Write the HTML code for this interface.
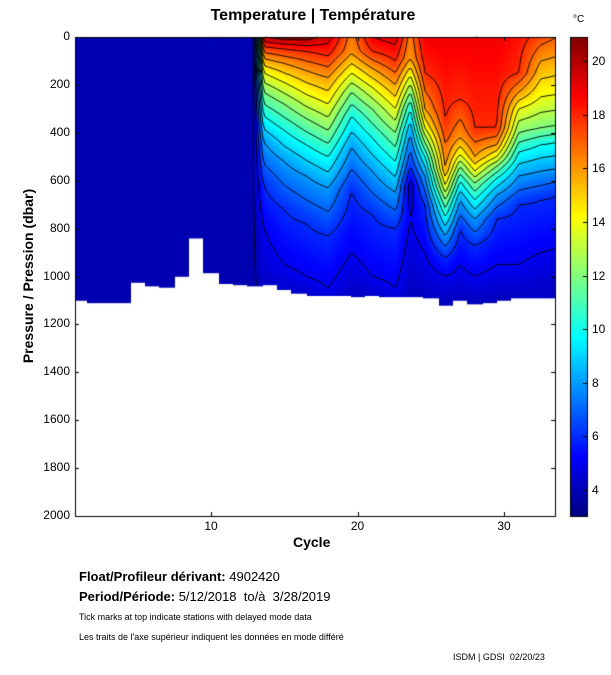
<!DOCTYPE html>
<html><head><meta charset="utf-8"><style>
body{margin:0;background:#fff;width:611px;height:675px;overflow:hidden;font-family:"Liberation Sans",sans-serif;position:relative}
.t{position:absolute;white-space:nowrap}
canvas{position:absolute;left:0;top:0}
</style></head><body>
<canvas id="c" width="611" height="675"></canvas>
<div class="t" style="left:0;width:626px;text-align:center;top:7px;font-size:16px;font-weight:bold">Temperature | Température</div>
<div class="t" style="left:573px;top:14px;font-size:10px">°C</div>
<div class="t" style="left:-72px;top:268px;width:200px;text-align:center;transform:rotate(-90deg);font-size:14px;font-weight:bold">Pressure / Pression (dbar)</div>
<div class="t" style="left:293px;top:534px;font-size:14px;font-weight:bold">Cycle</div>
<div class="t" style="left:79px;top:569px;font-size:13px;font-weight:bold">Float/Profileur dérivant: <span style="font-weight:normal">4902420</span></div>
<div class="t" style="left:79px;top:589px;font-size:13px;font-weight:bold">Period/Période: <span style="font-weight:normal">5/12/2018 &nbsp;to/à &nbsp;3/28/2019</span></div>
<div class="t" style="left:79px;top:612px;font-size:9px">Tick marks at top indicate stations with delayed mode data</div>
<div class="t" style="left:79px;top:632px;font-size:9px">Les traits de l'axe supérieur indiquent les données en mode différé</div>
<div class="t" style="left:453px;top:652px;font-size:9px">ISDM | GDSI &nbsp;02/20/23</div>
<div id="lab"></div>
<script>
var cv=document.getElementById('c'),g=cv.getContext('2d');
var X0=75,X1=555,Y0=37,Y1=516;
function px(c){return 211+(c-10)*14.65}
function py(p){return Y0+p*0.2395}
function jet(T){var t=(T-3)/18;t=Math.max(0,Math.min(1,t));function f(v){return Math.round(255*Math.max(0,Math.min(1,v)))}
return 'rgb('+f(1.5-Math.abs(4*t-3))+','+f(1.5-Math.abs(4*t-2))+','+f(1.5-Math.abs(4*t-1))+')'}
function mk(c,Ts,d){var T=[18,16,14,12,10,8,6,5],a=[[0,Ts]];for(var i=0;i<8;i++){if(T[i]<Ts&&d[i]>0)a.push([d[i],T[i]])}a.push([1120,4]);return{c:c,a:a}}
var P=[
{c:12.9,a:[[0,3.9],[1120,3.9]]},
mk(13.6,20,[40,90,150,230,330,440,620,800]),
mk(15,20.5,[50,110,190,280,390,520,720,950]),
mk(16.5,20.5,[60,140,240,340,450,580,780,1000]),
mk(18,19.5,[80,170,280,390,500,630,830,1050]),
{c:19.6,a:[[0,16.5],[60,16.2],[150,14],[230,12],[330,10],[460,8],[640,6],[900,5],[1120,4]]},
mk(21,19,[60,130,210,300,420,560,740,1000]),
mk(22.6,19.5,[100,200,300,400,520,650,800,1050]),
{c:23.6,a:[[0,16.5],[90,16],[160,14],[230,12],[300,10],[400,8],[540,6],[620,4.5],[760,5],[1120,4]]},
mk(24.6,19,[150,300,380,440,500,580,700,900]),
mk(26,19,[350,550,620,680,750,830,920,1000]),
mk(27,19,[260,420,490,540,600,680,800,950]),
mk(28,19,[380,500,560,610,680,760,870,1000]),
mk(29.5,19,[380,450,500,540,590,660,760,950]),
mk(31,18.5,[150,230,300,400,480,580,700,950]),
mk(32.5,17.5,[0,100,250,380,450,560,680,900]),
mk(33.6,17,[0,80,240,370,440,550,660,880])];
function prof(a,p){for(var i=1;i<a.length;i++){if(p<=a[i][0]){var q=a[i-1];return q[1]+(a[i][1]-q[1])*(p-q[0])/(a[i][0]-q[0])}}return a[a.length-1][1]}
function temp(c,p){if(c<=P[0].c)return prof(P[0].a,p);for(var i=1;i<P.length;i++){if(c<=P[i].c){var f=(c-P[i-1].c)/(P[i].c-P[i-1].c);return prof(P[i-1].a,p)*(1-f)+prof(P[i].a,p)*f}}return prof(P[P.length-1].a,p)}
var B={1:1100,2:1110,3:1110,4:1110,5:1025,6:1040,7:1045,8:1000,9:840,10:985,11:1030,12:1035,13:1040,14:1035,15:1055,16:1070,17:1080,18:1080,19:1080,20:1085,21:1080,22:1085,23:1085,24:1085,25:1090,26:1120,27:1100,28:1115,29:1110,30:1100,31:1090,32:1090,33:1090};
function bot(c){var k=Math.round(c);if(k<1)k=1;if(k>33)k=33;return B[k]}
g.fillStyle='#fff';g.fillRect(0,0,611,675);
var S=2,nx=(X1-X0)/S,ny=Math.ceil((py(1125)-Y0)/S),V=[];
for(var i=0;i<=nx;i++){V[i]=[];var c=(X0+i*S-211)/14.65+10;for(var j=0;j<=ny;j++){var p=j*S/0.2395;V[i][j]=temp(c,p)}}
for(var i=0;i<nx;i++){var c=(X0+i*S+1-211)/14.65+10,yb=py(bot(c));for(var j=0;j<ny;j++){var y=Y0+j*S;if(y>=yb)break;
g.fillStyle=jet((V[i][j]+V[i+1][j]+V[i][j+1]+V[i+1][j+1])/4);g.fillRect(X0+i*S,y,S,Math.min(S,yb-y)+0.3)}}
g.strokeStyle='#000';g.lineWidth=0.9;g.beginPath();
for(var L=4;L<=20;L++){for(var i=0;i<nx;i++){var c=(X0+i*S+1-211)/14.65+10,yb=py(bot(c));for(var j=0;j<ny;j++){if(Y0+(j+1)*S>yb)break;
var x=X0+i*S,y=Y0+j*S,a=V[i][j],b=V[i+1][j],d=V[i+1][j+1],e=V[i][j+1],pts=[];
function ed(v1,v2,x1,y1,x2,y2){if((v1-L)*(v2-L)<0){var f=(L-v1)/(v2-v1);pts.push([x1+(x2-x1)*f,y1+(y2-y1)*f])}}
ed(a,b,x,y,x+S,y);ed(b,d,x+S,y,x+S,y+S);ed(d,e,x+S,y+S,x,y+S);ed(e,a,x,y+S,x,y);
for(var k=0;k+1<pts.length;k+=2){g.moveTo(pts[k][0],pts[k][1]);g.lineTo(pts[k+1][0],pts[k+1][1])}}}}
g.stroke();
g.strokeStyle='#000';g.lineWidth=1;g.strokeRect(X0+0.5,Y0+0.5,X1-X0,Y1-Y0);
g.beginPath();for(var p=0;p<=2000;p+=200){var y=Math.round(py(p))+0.5;g.moveTo(X0,y);g.lineTo(X0+4,y);g.moveTo(X1,y);g.lineTo(X1-4,y)}
[10,20,30].forEach(function(c){var x=Math.round(px(c))+0.5;g.moveTo(x,Y1);g.lineTo(x,Y1-4);g.moveTo(x,Y0);g.lineTo(x,Y0+4)});g.stroke();
for(var y=37;y<516;y++){g.fillStyle=jet(21-(y-37)/479*18);g.fillRect(570,y,17,1)}
g.strokeRect(570.5,37.5,17,479);
g.beginPath();for(var T=4;T<=20;T+=2){var y=Math.round(490-(T-4)*26.8)+0.5;g.moveTo(583,y);g.lineTo(587,y)}g.stroke();
var h='';
for(var p=0;p<=2000;p+=200)h+='<div class="t" style="left:20px;width:50px;text-align:right;top:'+(py(p)-8)+'px;font-size:12px">'+p+'</div>';
[10,20,30].forEach(function(c){h+='<div class="t" style="left:'+(px(c)-10)+'px;width:20px;text-align:center;top:519px;font-size:12px">'+c+'</div>'});
for(var T=4;T<=20;T+=2)h+='<div class="t" style="left:592px;top:'+(490-(T-4)*26.8-7)+'px;font-size:12px">'+T+'</div>';
document.getElementById('lab').innerHTML=h;
</script>
</body></html>
